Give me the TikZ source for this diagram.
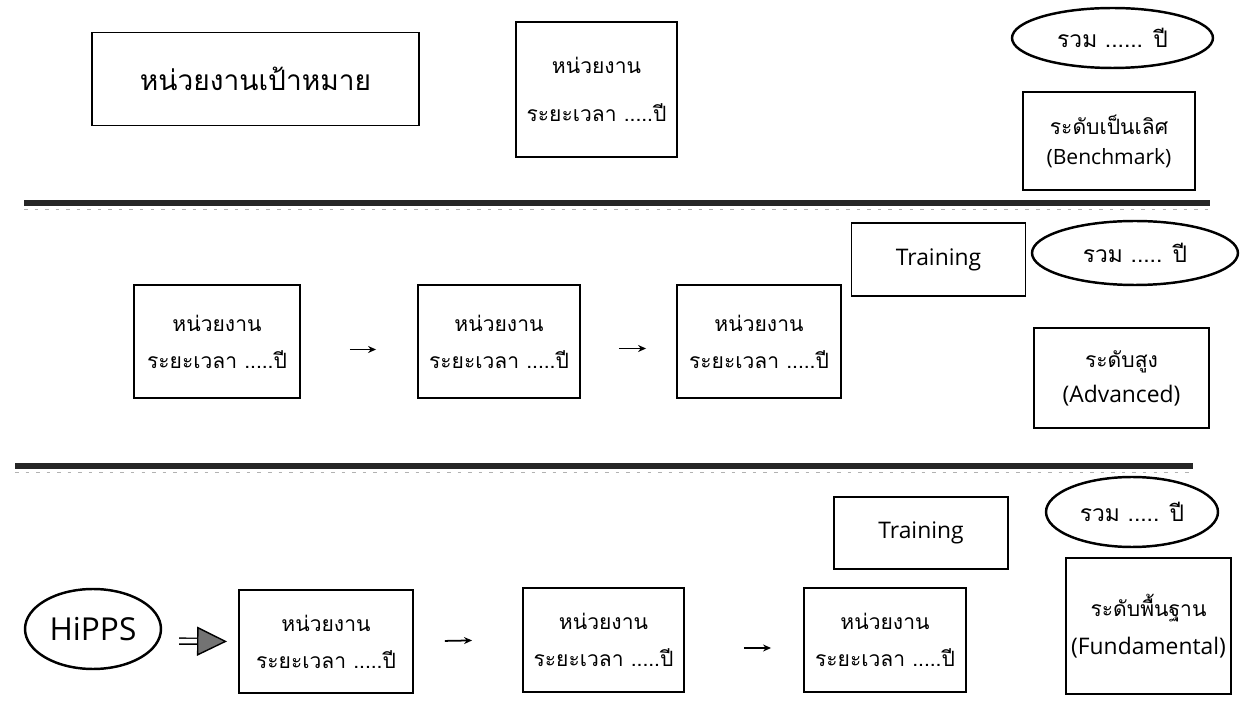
\documentclass[tikz,border=0pt]{standalone}
\usepackage{fontspec}
\setmainfont{Open Sans}
\newfontfamily\thai[Script=Thai]{Loma}
\usetikzlibrary{shapes.geometric,arrows.meta}
\begin{document}
\begin{tikzpicture}[x=0.02cm,y=-0.02cm,
  box/.style={draw,line width=1.1pt,inner sep=0pt,align=center},
  oval/.style={draw,ellipse,line width=1.4pt,inner sep=0pt},
  unittext/.style={font=\thai\fontsize{12}{21}\selectfont},
  lattext/.style={font=\fontsize{13}{24}\selectfont},
  ovaltext/.style={font=\thai\fontsize{13}{15}\selectfont},
  divider/.style={line width=3.5pt,black!85},
  faint/.style={line width=0.5pt,gray!60,dash pattern=on 2pt off 4pt},
  flow/.style={-{Stealth[length=0.16cm,width=0.14cm]},line width=1pt}
]
\fill[white] (0,0) rectangle (1242,702);
\useasboundingbox (0,0) rectangle (1242,702);

% ---- top band ----
\node[box,minimum width=6.54cm,minimum height=1.86cm,font=\thai\fontsize{16}{20}\selectfont] (target) at (255.5,79) {หน่วยงานเป้าหมาย};
\node[box,unittext,minimum width=3.22cm,minimum height=2.7cm] (u0) at (596.5,89.5) {หน่วยงาน\\[6pt]ระยะเวลา .....ปี};
\node[oval,ovaltext,minimum width=4.02cm,minimum height=1.2cm] (e1) at (1112.5,38) {รวม ...... ปี};
\node[box,minimum width=3.44cm,minimum height=1.96cm] (bench) at (1109,141) {{\thai\fontsize{12}{14}\selectfont ระดับเป็นเลิศ}\\[5pt]{\fontsize{12}{14}\selectfont (Benchmark)}};

\draw[divider] (24,203) -- (1210,203);
\draw[faint] (24,209) -- (1210,209);

% ---- middle band ----
\node[box,lattext,minimum width=3.48cm,minimum height=1.46cm] (train2) at (938.5,259.5) {Training};
\node[oval,ovaltext,minimum width=4.12cm,minimum height=1.28cm] (e2) at (1135,253) {รวม ..... ปี};
\node[box,minimum width=3.5cm,minimum height=2.0cm] (adv) at (1121.5,378) {{\thai\fontsize{12}{14}\selectfont ระดับสูง}\\[6pt]{\fontsize{13}{15}\selectfont (Advanced)}};

\node[box,unittext,minimum width=3.32cm,minimum height=2.26cm] (b21) at (217,341.5) {หน่วยงาน\\ระยะเวลา .....ปี};
\node[box,unittext,minimum width=3.24cm,minimum height=2.26cm] (b22) at (499,341.5) {หน่วยงาน\\ระยะเวลา .....ปี};
\node[box,unittext,minimum width=3.28cm,minimum height=2.26cm] (b23) at (759,341.5) {หน่วยงาน\\ระยะเวลา .....ปี};

\draw[flow,shorten <=0.98cm,shorten >=0.82cm] ([yshift=-0.16cm]b21.east) -- ([yshift=-0.16cm]b22.west);
\draw[flow,shorten <=0.76cm,shorten >=0.6cm] ([yshift=-0.14cm]b22.east) -- ([yshift=-0.14cm]b23.west);

\draw[divider] (15,466) -- (1193,466);
\draw[faint] (15,472) -- (1193,472);

% ---- bottom band ----
\node[box,lattext,minimum width=3.48cm,minimum height=1.44cm] (train3) at (921,533) {Training};
\node[oval,ovaltext,minimum width=3.44cm,minimum height=1.4cm] (e3) at (1132,512) {รวม ..... ปี};
\node[box,minimum width=3.3cm,minimum height=2.72cm] (fund) at (1148.5,626) {{\thai\fontsize{12}{14}\selectfont ระดับพื้นฐาน}\\[8pt]{\fontsize{13}{15}\selectfont (Fundamental)}};

\node[oval,minimum width=2.72cm,minimum height=1.6cm,font=\fontsize{18}{20}\selectfont] (hipps) at (93,629) {HiPPS};

\node[box,unittext,minimum width=3.48cm,minimum height=2.06cm] (b31) at (326,641.5) {หน่วยงาน\\ระยะเวลา .....ปี};
\node[box,unittext,minimum width=3.22cm,minimum height=2.08cm] (b32) at (603.5,640) {หน่วยงาน\\ระยะเวลา .....ปี};
\node[box,unittext,minimum width=3.24cm,minimum height=2.08cm] (b33) at (885,640) {หน่วยงาน\\ระยะเวลา .....ปี};

% double arrow HiPPS -> first unit
\draw[line width=0.8pt,double distance=0.09cm,shorten <=0.34cm,shorten >=0.8cm] ([yshift=-0.24cm]hipps.east) -- (b31.west);
\draw[-{Triangle[length=0.6cm,width=0.58cm,fill=black!55]},line width=0.8pt,shorten <=0.72cm,shorten >=0.22cm] ([yshift=-0.24cm]hipps.east) -- (b31.west);

\draw[flow,shorten <=0.62cm,shorten >=1.0cm] (b31.east) -- ([yshift=0.01cm]b32.west);
\draw[flow,shorten <=1.18cm,shorten >=0.64cm] ([yshift=-0.16cm]b32.east) -- ([yshift=-0.16cm]b33.west);
\end{tikzpicture}
\end{document}
